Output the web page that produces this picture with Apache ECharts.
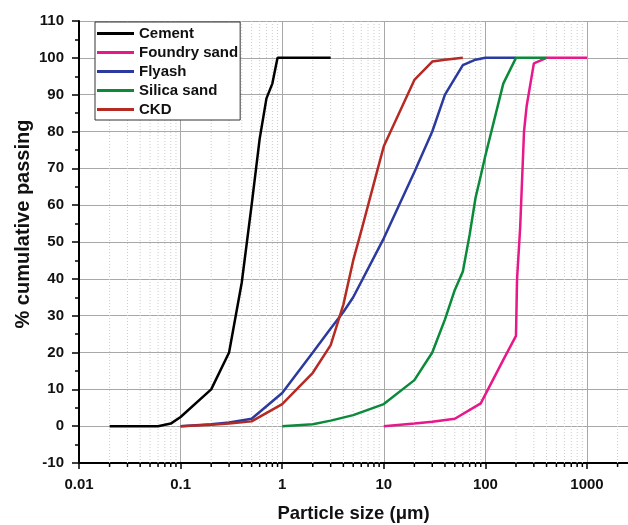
<!DOCTYPE html>
<html>
<head>
<meta charset="utf-8">
<script src="https://cdn.jsdelivr.net/npm/echarts@6/dist/echarts.min.js"></script>
<style>
  html, body { margin: 0; padding: 0; background: #fff; }
  #chart { width: 628px; height: 525px; }
</style>
</head>
<body>
<div id="chart"></div>
<script>
// particle size (um) and % passing
var cementSize   = [0.02, 0.04, 0.06, 0.08, 0.1, 0.2, 0.3, 0.4, 0.5, 0.6, 0.7, 0.8, 0.9, 1, 2, 3];
var cementPass   = [0, 0, 0, 0.7, 2.5, 10, 20, 39, 60, 78, 89, 93, 100, 100, 100, 100];

var foundrySize  = [10, 20, 30, 50, 90, 150, 200, 205, 220, 240, 255, 300, 400, 500, 1000];
var foundryPass  = [0, 0.7, 1.2, 2, 6.2, 18, 24.5, 40, 54, 80, 87, 98.5, 100, 100, 100];

var flyashSize   = [0.1, 0.2, 0.3, 0.5, 1, 2, 3, 4, 5, 10, 20, 30, 40, 60, 80, 100, 200];
var flyashPass   = [0, 0.5, 1, 2, 9, 20, 26.5, 31, 35, 51, 69, 80, 90, 98, 99.5, 100, 100];

var silicaSize   = [1, 2, 3, 5, 10, 20, 30, 40, 50, 60, 70, 80, 90, 100, 150, 200, 300, 400];
var silicaPass   = [0, 0.5, 1.5, 3, 6, 12.5, 20, 29, 37, 42, 52, 62, 68, 73.5, 93, 100, 100, 100];

var ckdSize      = [0.1, 0.2, 0.3, 0.5, 1, 2, 3, 4, 5, 6, 8, 10, 20, 30, 40, 60];
var ckdPass      = [0, 0.4, 0.7, 1.3, 6, 14.5, 22, 33, 45, 53, 66, 76, 94, 99, 99.5, 100];

var seriesNames  = ['Cement', 'Foundry sand', 'Flyash', 'Silica sand', 'CKD'];
var xTickLabels  = ['0.01', '0.1', '1', '10', '100', '1000'];
var decades      = [0.01, 0.1, 1, 10, 100, 1000];
var minorSteps   = [2, 3, 4, 5, 6, 7, 8, 9];

function pairs(xs, ys) {
  return xs.map(function (x, i) { return [x, ys[i]]; });
}

var minorData = [];
decades.forEach(function (d) {
  minorSteps.forEach(function (m) { minorData.push([+(d * m).toPrecision(3), 0]); });
});

var font = "'Liberation Sans', Arial, sans-serif";
var colors = ['#000000', '#e8178a', '#2b3a9e', '#0b8a3a', '#b52a22'];

function line(name, data, i) {
  return {
    name: name,
    type: 'line',
    data: data,
    symbol: 'none',
    z: 3,
    lineStyle: { color: colors[i], width: 2.5 },
    itemStyle: { color: colors[i] }
  };
}

var chart = echarts.init(document.getElementById('chart'));
chart.setOption({
  animation: false,
  textStyle: { fontFamily: font },
  grid: { left: 79, right: 0, top: 21, bottom: 62, outerBoundsMode: 'none' },
  legend: {
    orient: 'vertical',
    left: 95,
    top: 22,
    data: seriesNames,
    icon: 'rect',
    itemWidth: 37,
    itemHeight: 3,
    itemGap: 0,
    padding: [2, 2, 1, 2],
    borderColor: '#333',
    borderWidth: 1,
    backgroundColor: '#fff',
    textStyle: { fontFamily: font, fontWeight: 'bold', fontSize: 15, lineHeight: 19, color: '#111' }
  },
  xAxis: {
    type: 'log',
    logBase: 10,
    min: 0.01,
    max: 2533,
    name: 'Particle size (μm)',
    nameLocation: 'middle',
    nameGap: 41,
    nameMoveOverlap: false,
    nameTextStyle: { fontFamily: font, fontWeight: 'bold', fontSize: 18.5, color: '#111' },
    axisLine: { onZero: false, lineStyle: { color: '#000', width: 2 } },
    axisTick: { show: true, length: 6, lineStyle: { color: '#000', width: 1.5 } },
    axisLabel: {
      margin: 14,
      fontFamily: font, fontWeight: 'bold', fontSize: 15, color: '#111',
      showMaxLabel: false,
      formatter: function (v) {
        var k = Math.round(Math.log10(v)) + 2;
        return xTickLabels[k] || '';
      }
    },
    splitLine: { show: true, lineStyle: { color: '#a8a8a8', width: 1 } }
  },
  yAxis: {
    type: 'value',
    min: -10,
    max: 110,
    interval: 10,
    name: '% cumulative passing',
    nameLocation: 'middle',
    nameGap: 46,
    nameMoveOverlap: false,
    nameTextStyle: { fontFamily: font, fontWeight: 'bold', fontSize: 20, color: '#111', padding: [0, 0, 0, 36] },
    axisLine: { show: true, lineStyle: { color: '#000', width: 2 } },
    axisTick: { show: true, length: 7, lineStyle: { color: '#000', width: 1.5 } },
    minorTick: { show: true, splitNumber: 2, length: 4, lineStyle: { color: '#000', width: 1.5 } },
    axisLabel: { margin: 15, fontFamily: font, fontWeight: 'bold', fontSize: 15, color: '#111' },
    splitLine: { show: true, lineStyle: { color: '#a8a8a8', width: 1 } }
  },
  series: [
    {
      // minor log grid lines and ticks at 2..9 of each decade
      type: 'custom',
      silent: true,
      clip: false,
      z: 1,
      data: minorData,
      renderItem: function (params, api) {
        var v = api.value(0);
        var top = api.coord([v, 110]);
        var bot = api.coord([v, -10]);
        return {
          type: 'group',
          children: [
            {
              type: 'line',
              shape: { x1: top[0], y1: top[1], x2: bot[0], y2: bot[1] },
              style: { stroke: '#cccccc', lineWidth: 1, lineDash: [1, 2] }
            },
            {
              type: 'line',
              shape: { x1: bot[0], y1: bot[1], x2: bot[0], y2: bot[1] + 4 },
              style: { stroke: '#000', lineWidth: 1.5 }
            }
          ]
        };
      }
    },
    line('Cement', pairs(cementSize, cementPass), 0),
    line('Foundry sand', pairs(foundrySize, foundryPass), 1),
    line('Flyash', pairs(flyashSize, flyashPass), 2),
    line('Silica sand', pairs(silicaSize, silicaPass), 3),
    line('CKD', pairs(ckdSize, ckdPass), 4)
  ]
});
</script>
</body>
</html>
